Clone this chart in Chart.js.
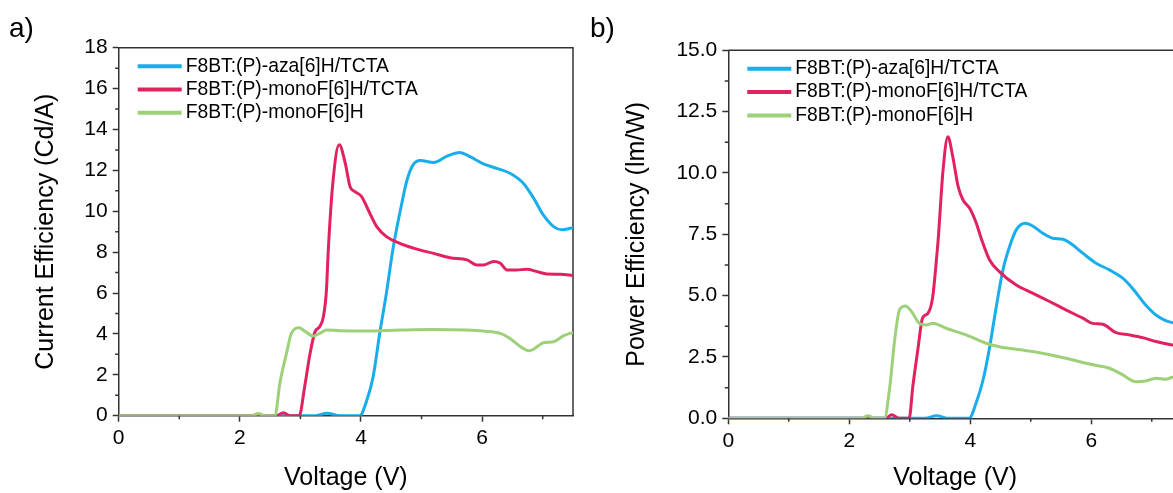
<!DOCTYPE html>
<html>
<head>
<meta charset="utf-8">
<title>OLED efficiency vs voltage</title>
<script src="https://cdn.jsdelivr.net/npm/chart.js@4.4.1/dist/chart.umd.min.js"></script>
<style>
    html, body { margin: 0; padding: 0; background: #fff; overflow: hidden; }
    body { width: 1173px; height: 493px; position: relative; }
    canvas { position: absolute; top: 0; }
    #chartA { left: 0; }
    #chartB { left: 585px; }
</style>
</head>
<body>
<canvas id="chartA" width="590" height="493"></canvas>
<canvas id="chartB" width="610" height="493"></canvas>
<script>
const SERIES_NAMES = ['F8BT:(P)-aza[6]H/TCTA', 'F8BT:(P)-monoF[6]H/TCTA', 'F8BT:(P)-monoF[6]H'];
const SERIES_COLORS = ['#19AEEB', '#E2215F', '#9ED07A'];

// a) current efficiency (Cd/A)
const ceAzaV = [0, 3.25, 3.44, 3.65, 3.98, 4.09, 4.2, 4.31, 4.42, 4.53, 4.64, 4.76, 4.86, 4.98, 5.2, 5.42, 5.63, 5.8, 6.02, 6.24, 6.46, 6.68, 6.85, 7.01, 7.18, 7.32, 7.5];
const ceAzaY = [0, 0, 0.12, 0, 0, 0.7, 1.9, 4.05, 6.0, 8.2, 9.9, 11.53, 12.27, 12.48, 12.38, 12.7, 12.88, 12.67, 12.32, 12.1, 11.86, 11.37, 10.64, 9.82, 9.25, 9.09, 9.2];

const ceMonoTctaV = [0, 2.6, 2.72, 2.83, 2.98, 3.07, 3.16, 3.24, 3.32, 3.38, 3.43, 3.46, 3.54, 3.64, 3.74, 3.82, 3.9, 4.01, 4.12, 4.26, 4.42, 4.64, 4.92, 5.2, 5.47, 5.75, 5.91, 6.02, 6.19, 6.3, 6.41, 6.57, 6.74, 6.9, 7.07, 7.29, 7.5];
const ceMonoTctaY = [0, 0, 0.14, 0, 0, 1.42, 3.05, 4.1, 4.36, 4.85, 6.15, 8.1, 11.53, 13.25, 12.35, 11.2, 10.96, 10.72, 10.06, 9.25, 8.76, 8.43, 8.15, 7.94, 7.73, 7.62, 7.37, 7.37, 7.54, 7.46, 7.13, 7.13, 7.16, 7.05, 6.93, 6.92, 6.85];

const ceMonoV = [0, 2.2, 2.3, 2.42, 2.58, 2.66, 2.77, 2.85, 2.98, 3.07, 3.21, 3.32, 3.43, 3.65, 4.09, 4.64, 5.2, 5.75, 6.02, 6.3, 6.46, 6.63, 6.77, 6.85, 7.01, 7.18, 7.34, 7.5];
const ceMonoY = [0, 0, 0.11, 0, 0, 1.58, 3.05, 4.03, 4.3, 4.14, 3.9, 4.03, 4.19, 4.16, 4.14, 4.19, 4.22, 4.19, 4.14, 4.03, 3.78, 3.38, 3.18, 3.25, 3.57, 3.62, 3.9, 4.08];

// b) power efficiency (lm/W)
const peAzaV = [0, 3.25, 3.44, 3.65, 3.98, 4.1, 4.21, 4.32, 4.43, 4.54, 4.65, 4.76, 4.91, 5.03, 5.2, 5.36, 5.53, 5.69, 5.86, 6.08, 6.3, 6.52, 6.68, 6.9, 7.07, 7.23, 7.34, 7.5];
const peAzaY = [0, 0, 0.1, 0, 0, 0.65, 1.55, 2.9, 4.55, 6.05, 7.0, 7.68, 7.95, 7.84, 7.54, 7.34, 7.3, 7.07, 6.73, 6.32, 6.05, 5.71, 5.3, 4.62, 4.21, 3.98, 3.9, 3.85];

const peMonoTctaV = [0, 2.6, 2.7, 2.82, 2.99, 3.05, 3.14, 3.21, 3.3, 3.38, 3.44, 3.47, 3.55, 3.63, 3.71, 3.8, 3.88, 3.99, 4.1, 4.18, 4.32, 4.48, 4.76, 5.03, 5.31, 5.58, 5.86, 6.02, 6.19, 6.41, 6.63, 6.85, 7.07, 7.34, 7.5];
const peMonoTctaY = [0, 0, 0.14, 0, 0, 1.29, 2.92, 4.08, 4.28, 4.96, 6.45, 7.3, 10.12, 11.48, 10.67, 9.44, 8.9, 8.56, 7.95, 7.34, 6.45, 5.98, 5.43, 5.1, 4.76, 4.42, 4.08, 3.87, 3.83, 3.49, 3.4, 3.29, 3.13, 2.99, 2.95];

const peMonoV = [0, 2.2, 2.31, 2.42, 2.58, 2.67, 2.75, 2.83, 2.93, 3.03, 3.16, 3.27, 3.38, 3.6, 3.93, 4.26, 4.48, 5.03, 5.58, 5.97, 6.3, 6.52, 6.74, 6.9, 7.07, 7.23, 7.34, 7.5];
const peMonoY = [0, 0, 0.1, 0, 0, 1.29, 3.19, 4.42, 4.58, 4.35, 3.87, 3.8, 3.87, 3.67, 3.4, 3.06, 2.92, 2.72, 2.45, 2.21, 2.04, 1.77, 1.49, 1.52, 1.63, 1.59, 1.67, 1.7];

const AXIS_COLOR = '#333';
const FONT_FAMILY = '"Liberation Sans", Arial, Helvetica, sans-serif';

Chart.defaults.font.family = FONT_FAMILY;
Chart.defaults.color = '#000';

function points(xs, ys) {
    return xs.map((x, i) => ({x: x, y: ys[i]}));
}

function makeDatasets(series) {
    // green drawn on top, blue at the bottom
    return series.map((s, i) => ({
        label: SERIES_NAMES[i],
        data: points(s[0], s[1]),
        borderColor: SERIES_COLORS[i],
        borderWidth: 3,
        pointRadius: 0,
        fill: false,
        cubicInterpolationMode: 'monotone',
        order: series.length - i
    }));
}

// top and right edges of the plot box
const boxFrame = {
    id: 'boxFrame',
    beforeDatasetsDraw(chart) {
        const {ctx, chartArea: a} = chart;
        ctx.save();
        ctx.strokeStyle = AXIS_COLOR;
        ctx.lineWidth = 1.5;
        ctx.beginPath();
        ctx.moveTo(a.left, a.top);
        ctx.lineTo(a.right, a.top);
        ctx.lineTo(a.right, a.bottom);
        ctx.stroke();
        ctx.restore();
    }
};

// short ticks halfway between the labelled ones
const minorTicks = {
    id: 'minorTicks',
    afterDraw(chart) {
        const ctx = chart.ctx;
        const x = chart.scales.x;
        const y = chart.scales.y;
        ctx.save();
        ctx.strokeStyle = AXIS_COLOR;
        ctx.lineWidth = 1.5;
        ctx.beginPath();
        const xStep = x.ticks[1].value - x.ticks[0].value;
        for (let v = x.ticks[0].value + xStep / 2; v < x.max; v += xStep) {
            const p = x.getPixelForValue(v);
            ctx.moveTo(p, x.top);
            ctx.lineTo(p, x.top + 3.5);
        }
        const yStep = y.ticks[1].value - y.ticks[0].value;
        for (let v = y.ticks[0].value + yStep / 2; v < y.max; v += yStep) {
            const p = y.getPixelForValue(v);
            ctx.moveTo(y.right, p);
            ctx.lineTo(y.right - 3.5, p);
        }
        ctx.stroke();
        ctx.restore();
    }
};

// legend sitting in the upper left of the plot box
const insideLegend = {
    id: 'insideLegend',
    afterDatasetsDraw(chart) {
        const {ctx, chartArea: a} = chart;
        ctx.save();
        ctx.font = '19.3px ' + FONT_FAMILY;
        ctx.textBaseline = 'middle';
        ctx.fillStyle = '#000';
        chart.data.datasets.forEach((ds, i) => {
            const yy = a.top + 18.5 + i * 23.3;
            ctx.strokeStyle = ds.borderColor;
            ctx.lineWidth = 4;
            ctx.beginPath();
            ctx.moveTo(a.left + 19, yy);
            ctx.lineTo(a.left + 63, yy);
            ctx.stroke();
            ctx.fillText(ds.label, a.left + 67, yy);
        });
        ctx.restore();
    }
};

// panel letter in the top left corner
const panelTag = {
    id: 'panelTag',
    afterDraw(chart, args, opts) {
        const ctx = chart.ctx;
        ctx.save();
        ctx.font = '28px ' + FONT_FAMILY;
        ctx.fillStyle = '#000';
        ctx.textBaseline = 'alphabetic';
        ctx.fillText(opts.text, opts.x, 37);
        ctx.restore();
    }
};

function makeChart(canvasId, cfg) {
    return new Chart(document.getElementById(canvasId), {
        type: 'line',
        data: {datasets: makeDatasets(cfg.series)},
        options: {
            responsive: false,
            animation: false,
            devicePixelRatio: 1,
            layout: {padding: {left: 0, right: cfg.padRight, top: cfg.padTop, bottom: 0}},
            plugins: {
                legend: {display: false},
                tooltip: {enabled: false},
                panelTag: {text: cfg.tag, x: cfg.tagX}
            },
            scales: {
                x: {
                    type: 'linear',
                    min: 0,
                    max: 7.5,
                    border: {color: AXIS_COLOR, width: 1.5},
                    grid: {drawOnChartArea: false, tickLength: 6, tickColor: AXIS_COLOR, tickWidth: 1.5},
                    ticks: {stepSize: 2, includeBounds: false, padding: 4, font: {size: 21}},
                    title: {display: true, text: 'Voltage (V)', font: {size: 25}, padding: {top: 2.7, bottom: 0}},
                    afterFit: (scale) => { scale.height = cfg.xHeight; }
                },
                y: {
                    type: 'linear',
                    min: 0,
                    max: cfg.yMax,
                    border: {color: AXIS_COLOR, width: 1.5},
                    grid: {drawOnChartArea: false, tickLength: 6, tickColor: AXIS_COLOR, tickWidth: 1.5},
                    ticks: {
                        stepSize: cfg.yStep,
                        padding: 5,
                        font: {size: 21},
                        callback: cfg.yFormat
                    },
                    title: {display: true, text: cfg.yTitle, font: {size: 25}, padding: {top: cfg.yTitlePad, bottom: 0}},
                    afterFit: (scale) => { scale.width = cfg.yWidth; }
                }
            }
        },
        plugins: [boxFrame, minorTicks, insideLegend, panelTag]
    });
}

makeChart('chartA', {
    series: [[ceAzaV, ceAzaY], [ceMonoTctaV, ceMonoTctaY], [ceMonoV, ceMonoY]],
    tag: 'a)',
    tagX: 9,
    yMax: 18,
    yStep: 2,
    yFormat: (v) => String(v),
    yTitle: 'Current Efficiency (Cd/A)',
    yTitlePad: 31,
    yWidth: 118.7,
    xHeight: 77.3,
    padTop: 47.7,
    padRight: 17
});

makeChart('chartB', {
    series: [[peAzaV, peAzaY], [peMonoTctaV, peMonoTctaY], [peMonoV, peMonoY]],
    tag: 'b)',
    tagX: 5,
    yMax: 15,
    yStep: 2.5,
    yFormat: (v) => v.toFixed(1),
    yTitle: 'Power Efficiency (lm/W)',
    yTitlePad: 37.3,
    yWidth: 143.3,
    xHeight: 74.7,
    padTop: 50.3,
    padRight: 13
});
</script>
</body>
</html>
